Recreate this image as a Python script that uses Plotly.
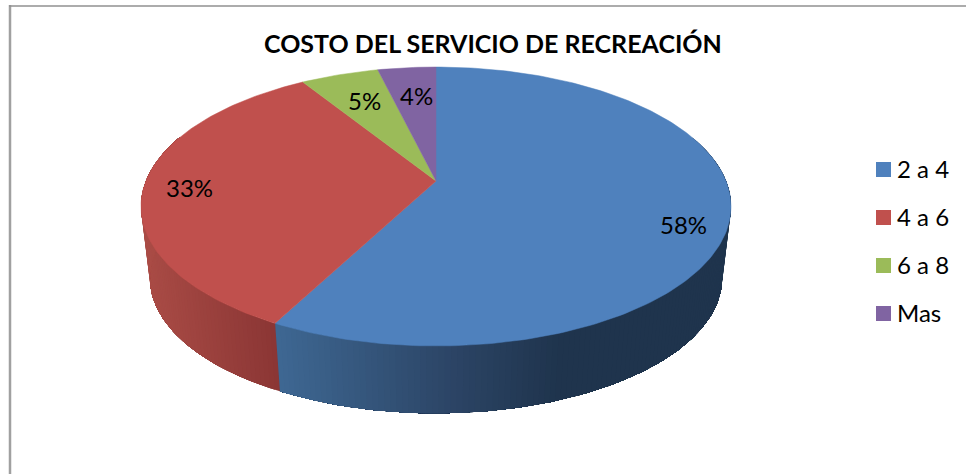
import math
import plotly.graph_objects as go

# Data
title = "COSTO DEL SERVICIO DE RECREACIÓN"
categories = ["2 a 4", "4 a 6", "6 a 8", "Mas"]
values = [57.7, 33.4, 5.1, 3.8]

# Styles
colors = ["#4F81BD", "#C0504D", "#9BBB59", "#8064A2"]
side_stops = {
    0: [(279, (62, 103, 146)), (450, (44, 69, 102)), (560, (31, 52, 77)), (740, (31, 52, 77))],
    1: [(140, (170, 76, 70)), (279, (138, 53, 52))],
    2: [(0, (110, 135, 60)), (966, (110, 135, 60))],
    3: [(0, (90, 70, 115)), (966, (90, 70, 115))],
}
CX, CY = 436.0, 181.0
A, K, P = 290.0, 134.8, 0.1828
BASE_SCALE, MID_Y, BASE_Y = 0.97, 206.5, 278.0


def top_pt(theta):
    X, Y = math.sin(theta), -math.cos(theta)
    d = 1 - P * Y
    return CX + A * X / d, CY + K * Y / d


def base_pt(theta):
    x, y = top_pt(theta)
    return CX + BASE_SCALE * (x - CX), BASE_Y + BASE_SCALE * (y - MID_Y)


def shade(i, x):
    stops = side_stops[i]
    if x <= stops[0][0]:
        c = stops[0][1]
    elif x >= stops[-1][0]:
        c = stops[-1][1]
    else:
        for (x0, c0), (x1, c1) in zip(stops, stops[1:]):
            if x0 <= x <= x1:
                t = (x - x0) / (x1 - x0)
                c = tuple(a + t * (b - a) for a, b in zip(c0, c1))
                break
    return "rgb(%d,%d,%d)" % tuple(round(v) for v in c)


total = sum(values)
edges = [0.0]
for v in values:
    edges.append(edges[-1] + v / total * 2 * math.pi)

fig = go.Figure()

# Side walls, front part only. Each step paints from its angle to the end of the
# slice, so later steps overlap earlier ones and no seam shows between bands.
VIS0, VIS1 = math.radians(70), math.radians(290)
for i in range(len(values)):
    a0, a1 = max(edges[i], VIS0), min(edges[i + 1], VIS1)
    if a1 <= a0:
        continue
    n = max(1, int(math.degrees(a1 - a0)))
    for s in range(n):
        t0 = a0 + (a1 - a0) * s / n
        m = n - s
        ts = [t0 + (a1 - t0) * k / m for k in range(m + 1)]
        p = [top_pt(t) for t in ts] + [base_pt(t) for t in reversed(ts)]
        p.append(p[0])
        col = shade(i, (top_pt(t0)[0] + top_pt(ts[1])[0]) / 2)
        fig.add_trace(go.Scatter(
            x=[q[0] for q in p], y=[q[1] for q in p], mode="lines",
            fill="toself", fillcolor=col, line=dict(width=0),
            hoverinfo="skip", showlegend=False))

# top faces
for i, name in enumerate(categories):
    n = max(8, int(math.degrees(edges[i + 1] - edges[i])))
    pts = [(CX, CY)] + [top_pt(edges[i] + (edges[i + 1] - edges[i]) * s / n) for s in range(n + 1)] + [(CX, CY)]
    fig.add_trace(go.Scatter(
        x=[q[0] for q in pts], y=[q[1] for q in pts], mode="lines", name=name,
        fill="toself", fillcolor=colors[i], line=dict(color=colors[i], width=0.5),
        hovertemplate=f"{name}: {values[i]}%<extra></extra>", showlegend=False))

label_pos = [(683, 224), (189, 187), (364, 100), (416, 95)]
annotations = [
    dict(x=lx, y=ly, text=f"{round(v)}%", showarrow=False, xanchor="center", yanchor="middle",
         font=dict(family="Lato", size=24, color="#000000"))
    for (lx, ly), v in zip(label_pos, values)
]
annotations.append(dict(x=492.5, y=43, text=f"<b>{title}</b>", showarrow=False, xanchor="center",
                        yanchor="middle", font=dict(family="Lato", size=25, color="#000000")))

shapes = [
    dict(type="line", x0=10, x1=10, y0=5, y1=474, line=dict(color="#A0A0A0", width=2.5)),
    dict(type="line", x0=9, x1=966, y0=6, y1=6, line=dict(color="#909090", width=1.5)),
]
for j, name in enumerate(categories):
    yc = 169.5 + 48 * j
    shapes.append(dict(type="rect", x0=876, x1=891, y0=yc - 7.5, y1=yc + 7.5,
                       fillcolor=colors[j], line=dict(width=0)))
    annotations.append(dict(x=895, y=yc - 1, text=name, showarrow=False, xanchor="left", yanchor="middle",
                            font=dict(family="Lato", size=24, color="#000000")))

fig.update_layout(
    width=966, height=474, margin=dict(l=0, r=0, t=0, b=0),
    paper_bgcolor="white", plot_bgcolor="white", showlegend=False,
    xaxis=dict(range=[0, 966], visible=False, fixedrange=True),
    yaxis=dict(range=[474, 0], visible=False, fixedrange=True),
    annotations=annotations, shapes=shapes,
)
fig.write_html("out.html", config={"displayModeBar": False},
               post_script="document.body.style.margin='0';document.body.style.overflow='hidden';")
